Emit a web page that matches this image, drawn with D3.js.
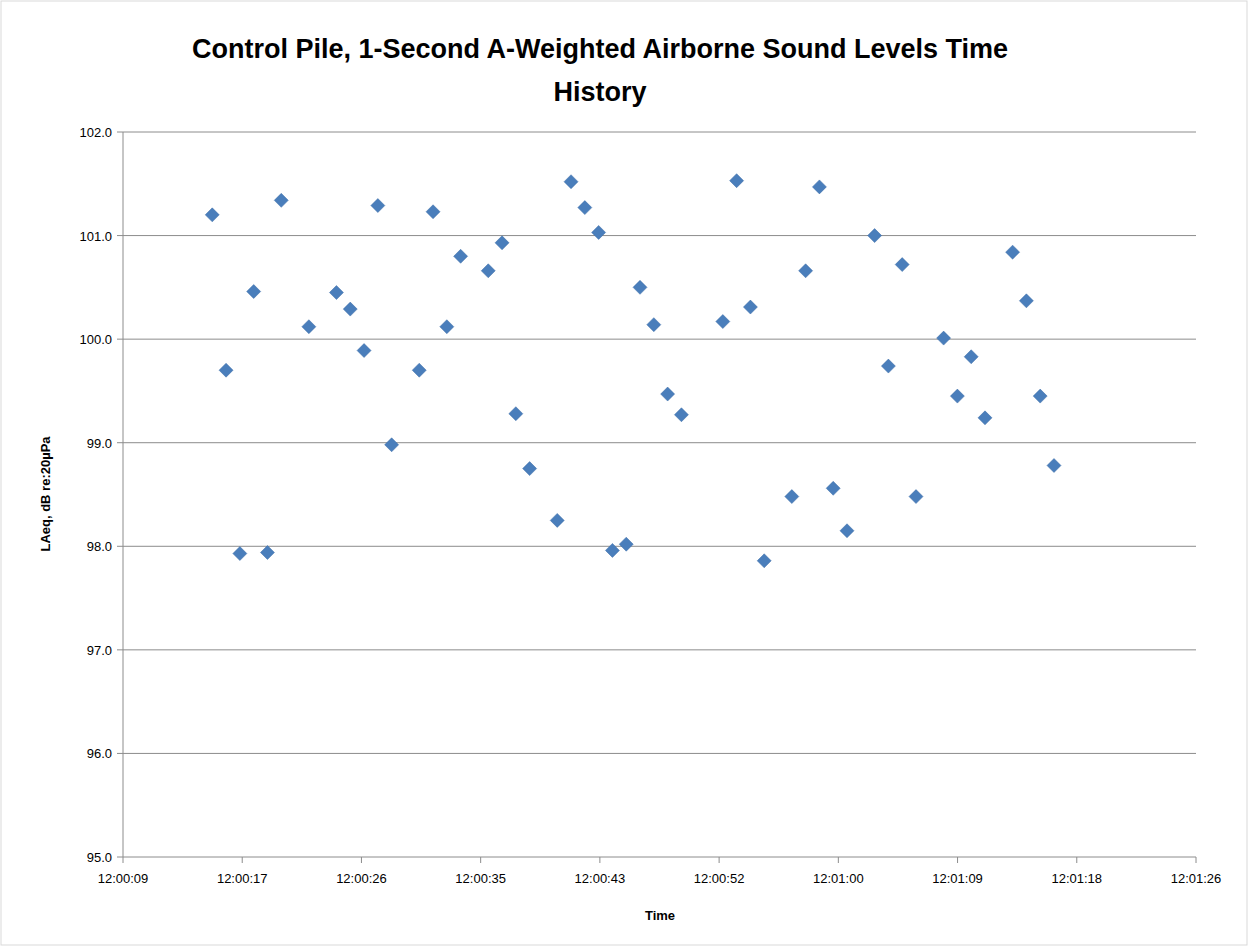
<!DOCTYPE html>
<html><head><meta charset="utf-8">
<script src="https://cdn.jsdelivr.net/npm/d3@7"></script>
<style>body{margin:0;background:#fff}text{font-family:"Liberation Sans",Arial,sans-serif}</style>
</head><body><div id="graf"></div>
<script>
// seconds after 12:00:00
secs = [15,16,17,18,19,20,22,24,25,26,27,28,30,31,32,33,35,36,37,38,40,41,42,43,44,45,46,47,48,49,
        52,53,54,55,57,58,59,60,61,63,64,65,66,68,69,70,71,73,74,75,76]
laeq = [101.20,99.70,97.93,100.46,97.94,101.34,100.12,100.45,100.29,99.89,101.29,98.98,99.70,101.23,100.12,100.80,
        100.66,100.93,99.28,98.75,98.25,101.52,101.27,101.03,97.96,98.02,100.50,100.14,99.47,99.27,
        100.17,101.53,100.31,97.86,98.48,100.66,101.47,98.56,98.15,101.00,99.74,100.72,98.48,100.01,99.45,99.83,99.24,
        100.84,100.37,99.45,98.78]
xTicks = d3.range(1, 11).map(k => k * 8.64)
yTicks = [95, 96, 97, 98, 99, 100, 101, 102]

svg = d3.select('#graf').append('svg').attr('width', 1249).attr('height', 947)
svg.append('rect').attr('x', 1).attr('y', 1).attr('width', 1246).attr('height', 944)
   .attr('fill', 'none').attr('stroke', '#d9d9d9')

x = d3.scaleLinear().domain([8.64, 86.4]).range([123, 1196])
y = d3.scaleLinear().domain([95, 102]).range([857, 132])

fmt = s => { s = Math.round(s); return '12:' + String(Math.floor(s / 60)).padStart(2, '0') + ':' + String(s % 60).padStart(2, '0') }

svg.selectAll('.grid').data(yTicks).enter().append('line')
   .attr('x1', 123).attr('x2', 1196).attr('y1', d => y(d)).attr('y2', d => y(d))
   .attr('stroke', '#8c8c8c').attr('stroke-width', 1)
svg.append('line').attr('x1', 123).attr('x2', 123).attr('y1', 132).attr('y2', 857).attr('stroke', '#8c8c8c')

svg.selectAll('.xt').data(xTicks).enter().append('line')
   .attr('x1', d => x(d)).attr('x2', d => x(d)).attr('y1', 857).attr('y2', 863).attr('stroke', '#8c8c8c')
svg.selectAll('.yt').data(yTicks).enter().append('line')
   .attr('x1', 117).attr('x2', 123).attr('y1', d => y(d)).attr('y2', d => y(d)).attr('stroke', '#8c8c8c')

svg.selectAll('.xl').data(xTicks).enter().append('text')
   .attr('x', d => x(d)).attr('y', 883).attr('text-anchor', 'middle').attr('font-size', 13).text(fmt)
svg.selectAll('.yl').data(yTicks).enter().append('text')
   .attr('x', 112).attr('y', d => y(d) + 5).attr('text-anchor', 'end').attr('font-size', 13).text(d => d.toFixed(1))

svg.append('text').attr('x', 600).attr('y', 58).attr('text-anchor', 'middle')
   .attr('font-size', 27).attr('font-weight', 'bold').text('Control Pile, 1-Second A-Weighted Airborne Sound Levels Time')
svg.append('text').attr('x', 600).attr('y', 101).attr('text-anchor', 'middle')
   .attr('font-size', 27).attr('font-weight', 'bold').text('History')
svg.append('text').attr('x', 660).attr('y', 920).attr('text-anchor', 'middle')
   .attr('font-size', 13).attr('font-weight', 'bold').text('Time')
svg.append('text').attr('transform', 'translate(50,494) rotate(-90)').attr('text-anchor', 'middle')
   .attr('font-size', 13).attr('font-weight', 'bold').text('LAeq, dB re:20µPa')

svg.selectAll('.pt').data(secs).enter().append('path')
   .attr('d', 'M0,-7L7,0L0,7L-7,0Z')
   .attr('transform', (d, i) => `translate(${x(d) + 1.5},${y(laeq[i])})`)
   .attr('fill', '#4a7ebb').attr('stroke', '#3d6ca6').attr('stroke-width', 0.5)
</script></body></html>
